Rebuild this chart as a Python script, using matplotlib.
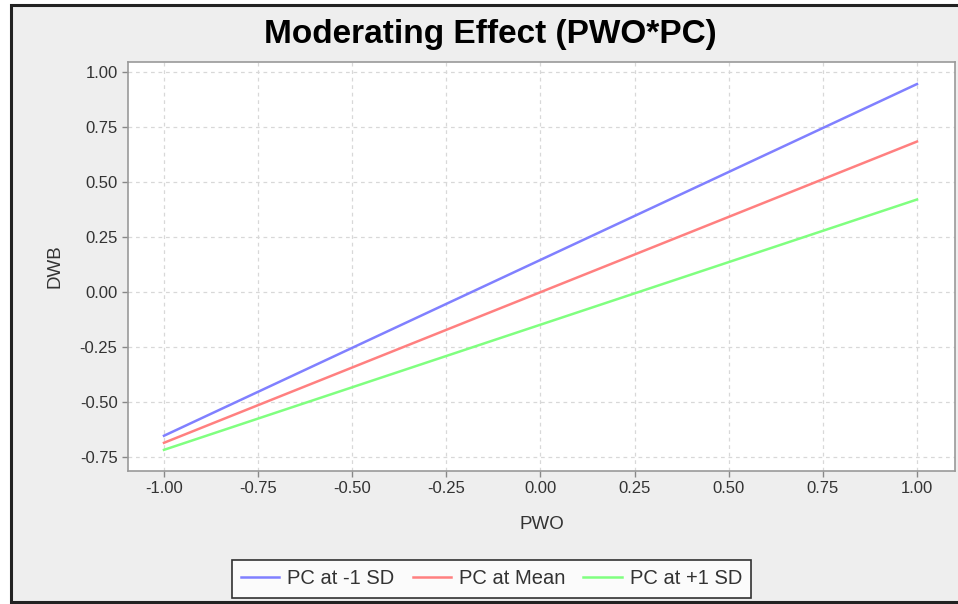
import numpy as np
import matplotlib.pyplot as plt
from matplotlib.patches import Rectangle

plt.rcParams['font.family'] = ['Liberation Sans', 'DejaVu Sans']

# Data
pwo = [-1.0, 1.0]
dwb_low = [-0.652, 0.944]    # PC at -1 SD
dwb_mean = [-0.684, 0.683]   # PC at Mean
dwb_high = [-0.716, 0.420]   # PC at +1 SD
labels = ['PC at -1 SD', 'PC at Mean', 'PC at +1 SD']
colors = ['#8080ff', '#ff8080', '#80ff80']
ticks = np.arange(-1.0, 1.01, 0.25)

fig = plt.figure(figsize=(9.58, 6.04), dpi=100, facecolor='white')
W, H = 958, 604

# panel background with dark border
fig.patches.append(Rectangle((11 / W, 2 / H), 1.0, (602 - 5) / H,
                             transform=fig.transFigure, facecolor='#eeeeee',
                             edgecolor='#222222', linewidth=2.2, zorder=-10))

ax = fig.add_axes([128 / W, 1 - 471 / H, (955 - 128) / W, (471 - 62) / H])
ax.set_zorder(5)
ax.set_facecolor('white')

for y, c, lab in zip([dwb_low, dwb_mean, dwb_high], colors, labels):
    ax.plot(pwo, y, color=c, linewidth=1.8, label=lab, zorder=3)

ax.set_xlim(-1.0956, 1.101)
ax.set_ylim(-0.812, 1.044)
ax.set_xticks(ticks)
ax.set_yticks(np.arange(-0.75, 1.01, 0.25))
ax.xaxis.set_major_formatter(plt.FuncFormatter(lambda v, p: f'{v:.2f}'))
ax.yaxis.set_major_formatter(plt.FuncFormatter(lambda v, p: f'{v:.2f}'))
ax.grid(True, color='#d8d8d8', linestyle=(0, (3, 3)), linewidth=0.9)
ax.tick_params(colors='#888888', labelcolor='#333333', labelsize=12,
               length=4, width=1, direction='out')
for s in ax.spines.values():
    s.set_color('#999999')
    s.set_linewidth(1.2)

ax.set_xlabel('PWO', fontsize=13.5, color='#333333', labelpad=14)
ax.set_ylabel('DWB', fontsize=13.5, color='#333333', labelpad=12)

fig.text(490 / W, 1 - 34 / H, 'Moderating Effect (PWO*PC)', ha='center', va='center',
         fontsize=24, fontweight='bold', color='black')

leg = fig.legend(loc='center', bbox_to_anchor=(491.5 / W, 1 - 579 / H), ncol=3,
                 fontsize=14.5, frameon=True, fancybox=False, handlelength=1.9,
                 handletextpad=0.4, columnspacing=0.9, borderpad=0.45)
leg.get_frame().set_edgecolor('black')
leg.get_frame().set_linewidth(1.2)
for t in leg.get_texts():
    t.set_color('#333333')

fig.savefig('out.png', dpi=100, facecolor='white')
